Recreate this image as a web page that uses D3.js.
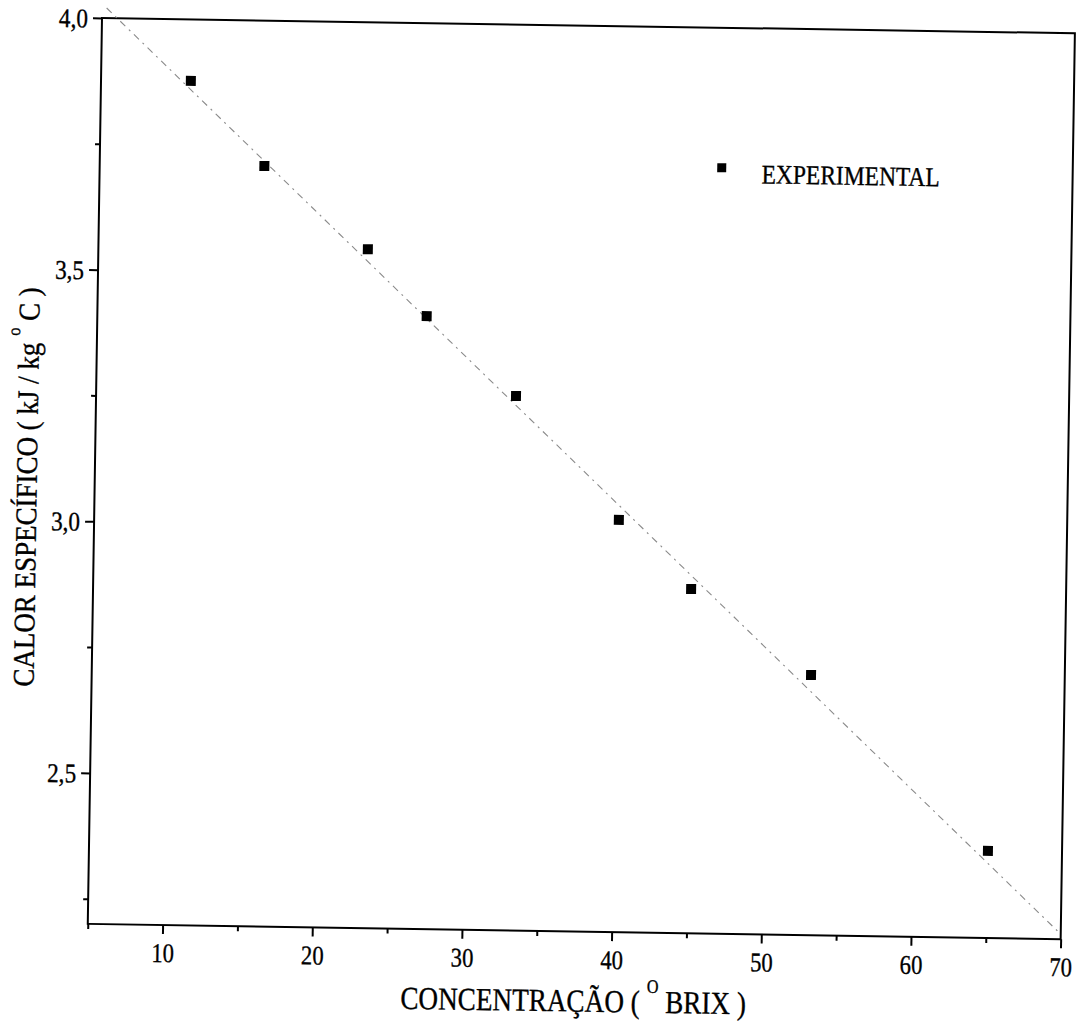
<!DOCTYPE html>
<html>
<head>
<meta charset="utf-8">
<script src="https://cdn.jsdelivr.net/npm/d3@7"></script>
<style>
  body { margin: 0; background: #fff; }
  svg text {
    font-family: "Liberation Serif", "Times New Roman", "DejaVu Serif", serif;
    fill: #000;
    stroke: #000;
    stroke-width: 0.35px;
  }
</style>
</head>
<body>
<svg id="canvas" width="1082" height="1025"></svg>
<script>
// measured points (Brix, kJ/kg C)
const brix = [11.0, 16.0, 23.0, 27.0, 33.05, 40.05, 44.95, 53.05, 65.05];
const cp = [3.878, 3.711, 3.549, 3.418, 3.262, 3.019, 2.884, 2.717, 2.373];

// fitted line end points
const fitBrix = [5.3, 70];
const fitCp = [4.02, 2.21];

const xMajorTicks = [10, 20, 30, 40, 50, 60, 70];
const xMinorTicks = [5, 15, 25, 35, 45, 55, 65];
const yMajorTicks = [2.5, 3.0, 3.5, 4.0];
const yMinorTicks = [2.25, 2.75, 3.25, 3.75];
const yTickLabels = ["2,5", "3,0", "3,5", "4,0"];

const legendLabel = "EXPERIMENTAL";

const serif = "'Liberation Serif', 'Times New Roman', serif";

let width = 973;
let height = 906;

let svg = d3.select("#canvas");

// the scanned page is slightly tilted
let g = svg.append("g")
  .attr("transform", "translate(102,18) rotate(0.9)");

let x = d3.scaleLinear().domain([5, 70]).range([0, width]);
let y = d3.scaleLinear().domain([2.2, 4.0]).range([height, 0]);

// frame
g.append("rect")
  .attr("x", 0)
  .attr("y", 0)
  .attr("width", width)
  .attr("height", height)
  .attr("fill", "none")
  .attr("stroke", "#000")
  .attr("stroke-width", 2);

// x axis
let xAxis = g.append("g")
  .attr("transform", "translate(0," + height + ")")
  .call(d3.axisBottom(x).tickValues(xMajorTicks).tickSize(9).tickSizeOuter(0)
    .tickFormat(d3.format("d")))
  .attr("font-family", serif);
xAxis.select(".domain").remove();
xAxis.selectAll("line").attr("stroke-width", 2);
xAxis.selectAll("text")
  .attr("y", 37)
  .attr("dy", 0)
  .attr("font-size", 27)
  .attr("transform", "scale(0.84,1)");

let xMinor = g.append("g")
  .attr("transform", "translate(0," + height + ")")
  .call(d3.axisBottom(x).tickValues(xMinorTicks).tickSize(5).tickFormat(""));
xMinor.select(".domain").remove();
xMinor.selectAll("line").attr("stroke-width", 2);

// y axis
let yAxis = g.append("g")
  .call(d3.axisLeft(y).tickValues(yMajorTicks).tickSize(9).tickSizeOuter(0)
    .tickFormat((d, i) => yTickLabels[i]))
  .attr("font-family", serif);
yAxis.select(".domain").remove();
yAxis.selectAll("line").attr("stroke-width", 2);
yAxis.selectAll("text")
  .attr("x", 0)
  .attr("dy", "0.34em")
  .attr("font-size", 27)
  .attr("transform", "translate(-14,0) scale(0.86,1)");

let yMinor = g.append("g")
  .call(d3.axisLeft(y).tickValues(yMinorTicks).tickSize(5).tickFormat(""));
yMinor.select(".domain").remove();
yMinor.selectAll("line").attr("stroke-width", 2);

// fitted line
let line = d3.line()
  .x((d, i) => x(fitBrix[i]))
  .y((d, i) => y(fitCp[i]));

g.append("path")
  .attr("d", line(fitBrix))
  .attr("fill", "none")
  .attr("stroke", "#8a8a8a")
  .attr("stroke-width", 1.1)
  .attr("stroke-dasharray", "7,5,2,5");

// points
g.selectAll(".point")
  .data(brix)
  .enter()
  .append("rect")
  .attr("class", "point")
  .attr("x", (d) => x(d) - 5)
  .attr("y", (d, i) => y(cp[i]) - 5)
  .attr("width", 10)
  .attr("height", 10)
  .attr("fill", "#000");

// legend
let legend = g.append("g").attr("transform", "translate(622,140)");
legend.append("rect")
  .attr("x", -4.5)
  .attr("y", -4.5)
  .attr("width", 9)
  .attr("height", 9)
  .attr("fill", "#000");
legend.append("text")
  .attr("transform", "translate(40,15) scale(0.87,1)")
  .attr("font-family", serif)
  .attr("font-size", 27)
  .text(legendLabel);

// x title
let xTitle = g.append("text")
  .attr("transform", "translate(" + (width / 2) + "," + (height + 80) + ") scale(0.85,1)")
  .attr("text-anchor", "middle")
  .attr("font-family", serif)
  .attr("font-size", 32);
xTitle.append("tspan").text("CONCENTRAÇÃO ( ");
xTitle.append("tspan").attr("font-size", 19).attr("dy", -20).text("O");
xTitle.append("tspan").attr("dy", 20).text("  BRIX )");

// y title
let yTitle = g.append("text")
  .attr("transform", "translate(-58," + 470 + ") rotate(-90) scale(0.9,1)")
  .attr("text-anchor", "middle")
  .attr("font-family", serif)
  .attr("font-size", 30);
yTitle.append("tspan").text("CALOR ESPECÍFICO ( kJ / kg ");
yTitle.append("tspan").attr("font-size", 18).attr("dy", -19).text("o");
yTitle.append("tspan").attr("dy", 19).text("  C )");
</script>
</body>
</html>
